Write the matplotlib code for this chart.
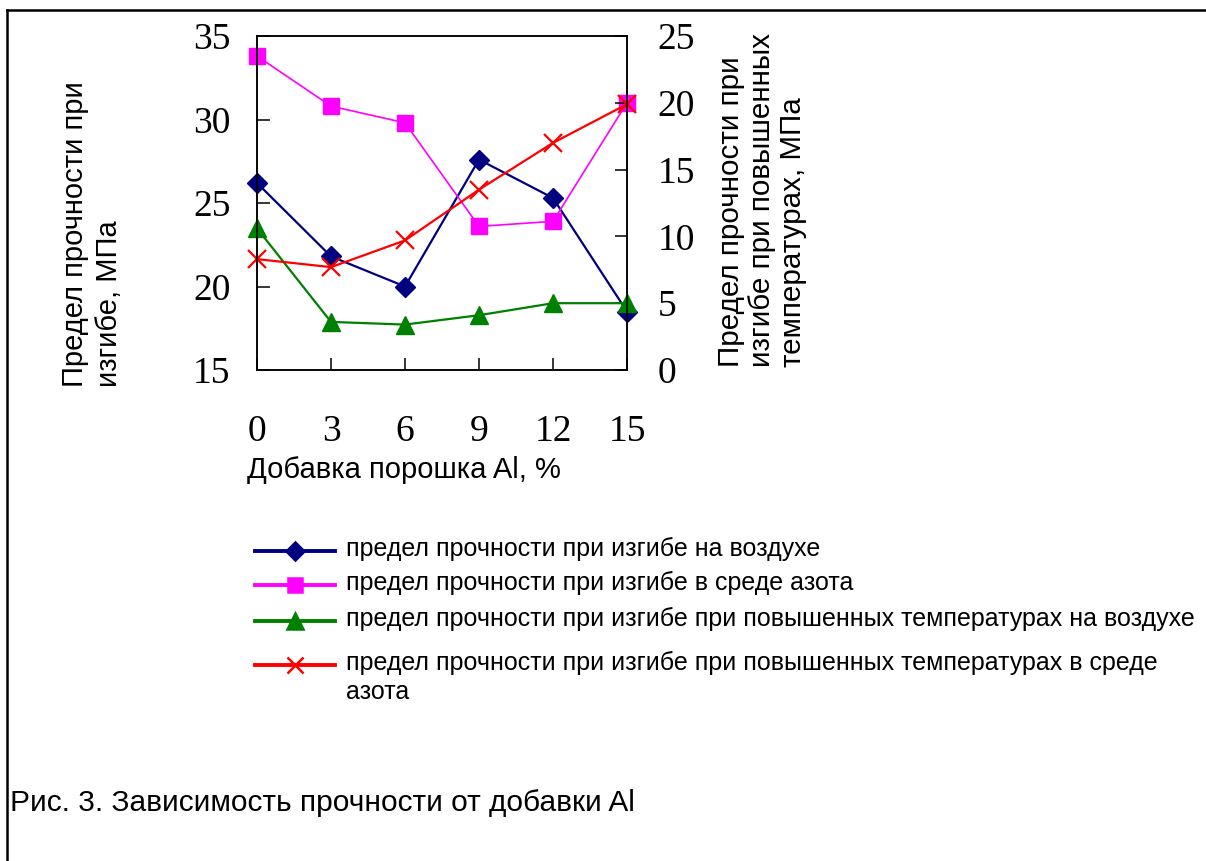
import matplotlib
matplotlib.use("Agg")
import matplotlib.pyplot as plt
from matplotlib.lines import Line2D

# data
x_pct = [0, 3, 6, 9, 12, 15]
air = [26.2, 21.8, 20.0, 27.6, 25.3, 18.5]            # left axis
nitrogen = [33.8, 30.8, 29.8, 23.6, 23.9, 31.0]       # left axis
hot_air = [10.6, 3.6, 3.4, 4.1, 5.0, 5.0]             # right axis
hot_nitrogen = [8.3, 7.7, 9.7, 13.5, 17.0, 19.9]      # right axis

left_ticks = [15, 20, 25, 30, 35]
right_ticks = [0, 5, 10, 15, 20, 25]

labels = [
    "предел прочности при изгибе на воздухе",
    "предел прочности при изгибе в среде азота",
    "предел прочности при изгибе при повышенных температурах на воздухе",
    "предел прочности при изгибе при повышенных температурах в среде\nазота",
]
colors = ["#000080", "#FF00FF", "#008000", "#FF0000"]
markers = ["D", "s", "^", "x"]
msizes = [10.5, 11.5, 12.5, 13.5]

sans = "Liberation Sans"
serif = "Liberation Serif"

W, H = 1206, 861
fig = plt.figure(figsize=(W / 100, H / 100), dpi=100)
fig.patch.set_facecolor("white")

# axes placed in pixel terms of the reference
l, r, t, b = 257, 627, 36, 370
ax = fig.add_axes([l / W, 1 - b / H, (r - l) / W, (b - t) / H])
ax2 = ax.twinx()

ax.plot(x_pct, air, color=colors[0], marker=markers[0], ms=msizes[0], lw=1.6, clip_on=False)
ax.plot(x_pct, nitrogen, color=colors[1], marker=markers[1], ms=msizes[1], lw=1.2, clip_on=False)
ax2.plot(x_pct, hot_air, color=colors[2], marker=markers[2], ms=msizes[2], lw=1.6, clip_on=False)
ax2.plot(x_pct, hot_nitrogen, color=colors[3], marker=markers[3], ms=msizes[3], mew=1.6, lw=1.6, clip_on=False)

ax.set_xlim(0, 15)
ax.set_ylim(15, 35)
ax2.set_ylim(0, 25)
ax.set_xticks(x_pct)
ax.set_yticks(left_ticks)
ax2.set_yticks(right_ticks)

for a in (ax, ax2):
    for s in a.spines.values():
        s.set_linewidth(1.1)

ax.tick_params(axis="y", direction="in", length=9, width=1.1, pad=19, labelsize=27)
ax.tick_params(axis="x", direction="in", length=9, width=1.1, pad=32, labelsize=27)
ax2.tick_params(axis="y", direction="in", length=9, width=1.1, pad=22, labelsize=27)
for lab in ax.get_xticklabels() + ax.get_yticklabels() + ax2.get_yticklabels():
    lab.set_fontfamily(serif)

# axis titles
fig.text(92 / W, 1 - 387 / H, "Предел прочности при\nизгибе, МПа", rotation=90,
         ha="center", va="bottom", multialignment="left", fontsize=21,
         family=sans, linespacing=1.3)
fig.text(762 / W, 1 - 367 / H, "Предел прочности при\nизгибе при повышенных\nтемпературах, МПа",
         rotation=90, ha="center", va="bottom", multialignment="left", fontsize=21.3,
         family=sans, linespacing=1.15)
fig.text(247 / W, 1 - 470 / H, "Добавка порошка Al, %", ha="left", va="center",
         fontsize=21, family=sans)

# legend drawn in a pixel-space overlay
lax = fig.add_axes([0, 0, 1, 1], zorder=-1)
lax.set_xlim(0, W)
lax.set_ylim(H, 0)
lax.axis("off")

rows = [551, 585, 621, 665]
for lab, c, m, ms, y in zip(labels, colors, markers, msizes, rows):
    lax.add_line(Line2D([255, 335], [y, y], color=c, lw=2.8))
    lax.add_line(Line2D([295], [y], color=c, marker=m, ms=ms * 0.9, mew=1.8))
    lax.text(346, y - 14, lab, ha="left", va="top", fontsize=18, family=sans, linespacing=1.25)

# caption and page frame
lax.text(10, 803, "Рис. 3. Зависимость прочности от добавки Al", ha="left", va="center",
         fontsize=21.5, family=sans)
lax.add_line(Line2D([7, W], [10, 10], color="black", lw=1.8))
lax.add_line(Line2D([7, 7], [10, H], color="black", lw=1.8))

fig.savefig("out.png", dpi=100, facecolor="white")
